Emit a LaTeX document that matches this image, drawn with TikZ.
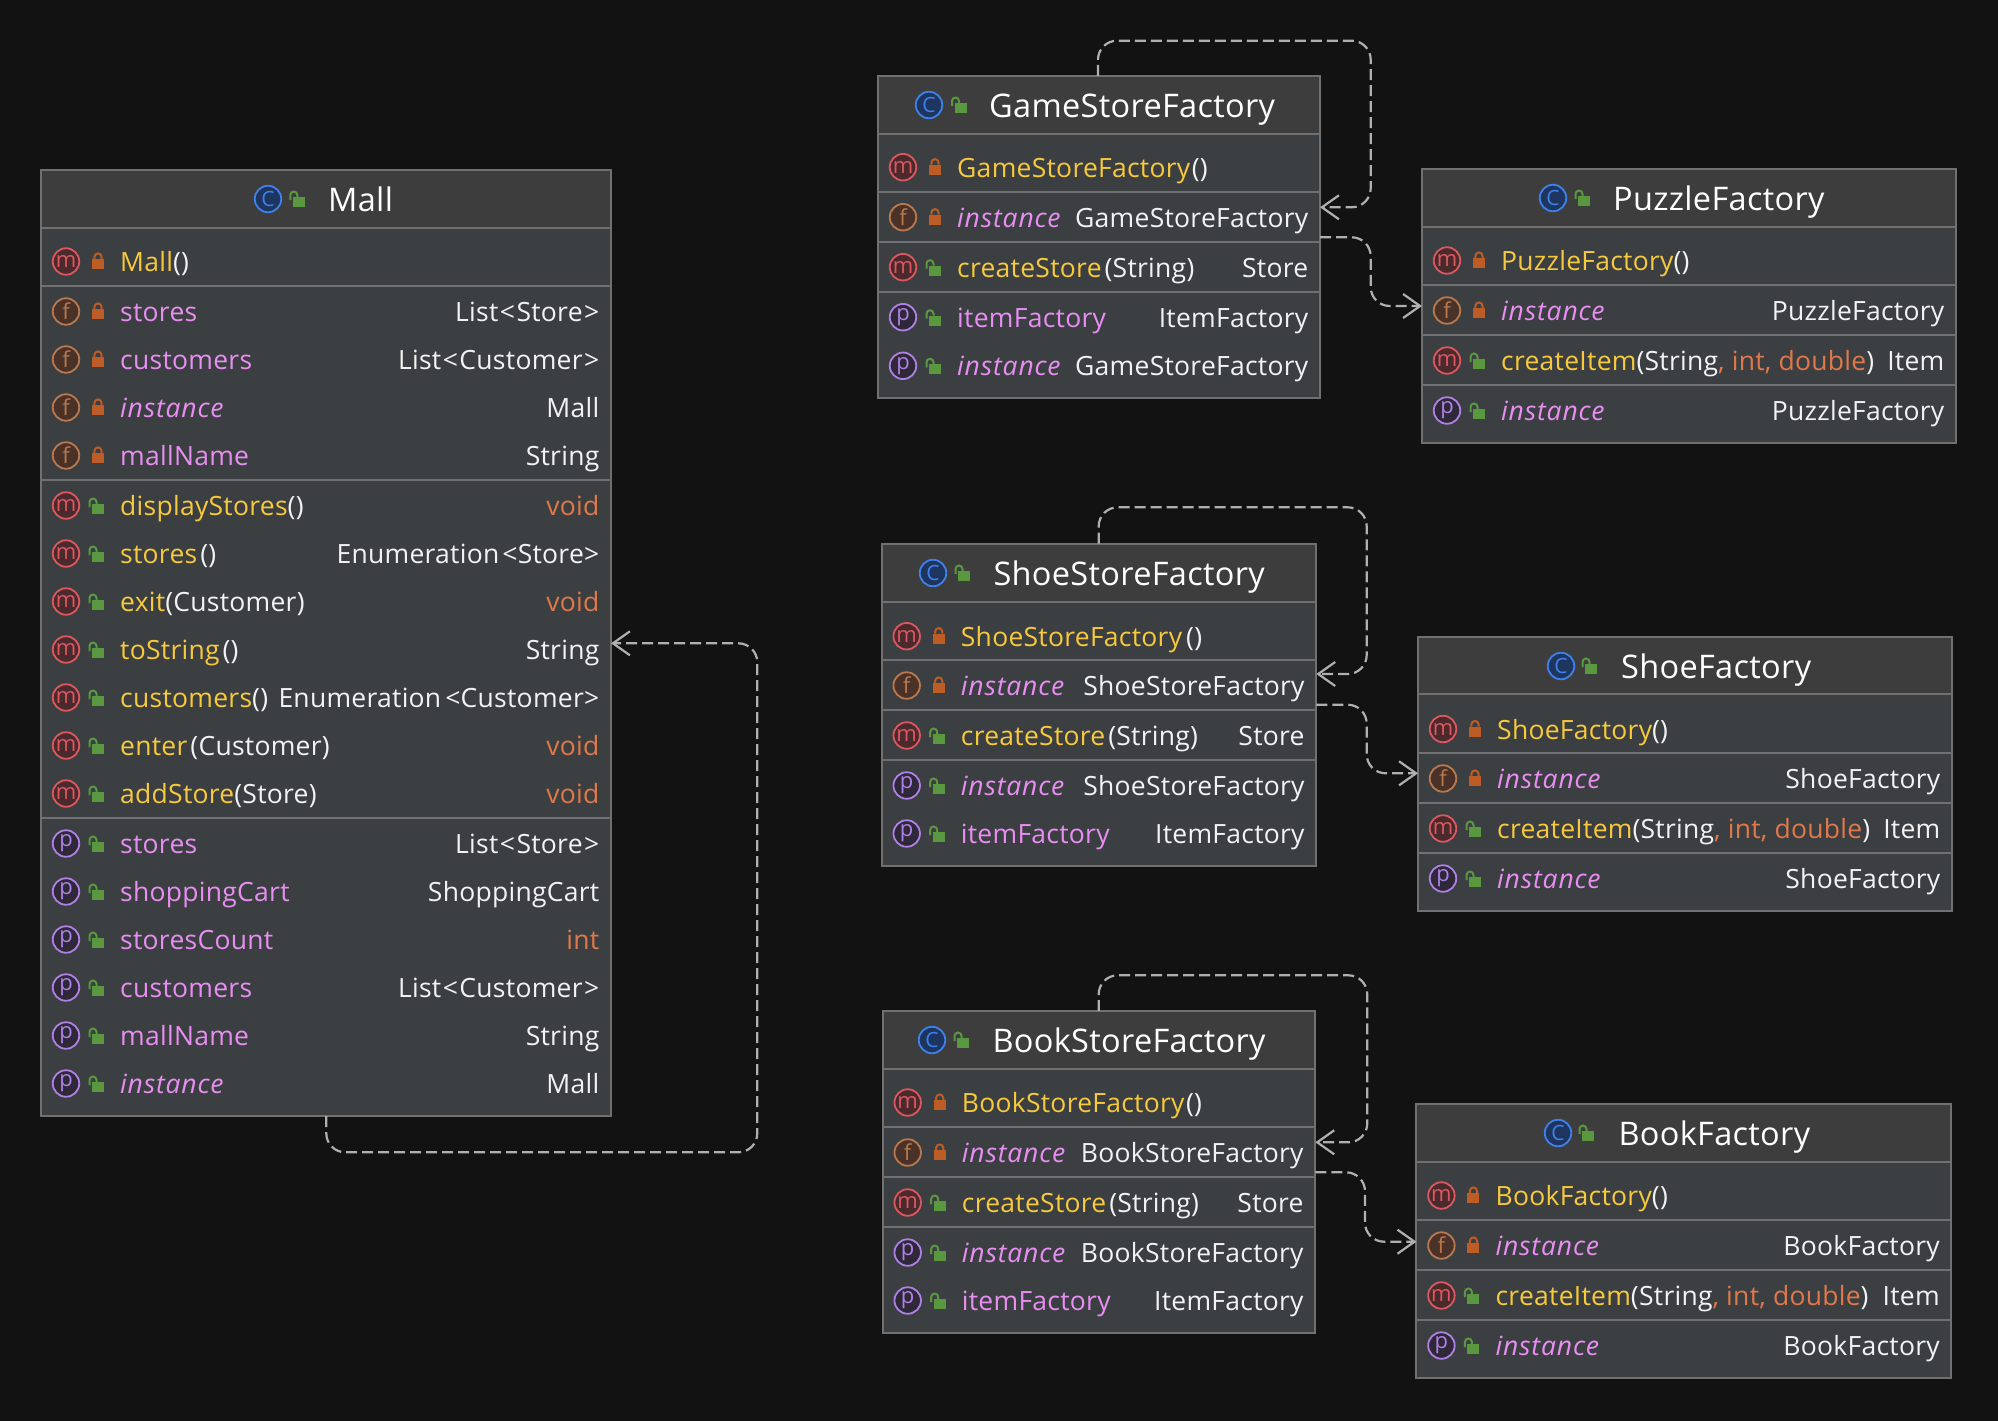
\documentclass[tikz,border=0pt]{standalone}
\usepackage{fontspec}
\setmainfont{Open Sans}[LetterSpace=1.0,ItalicFeatures={LetterSpace=3.2}]
\usetikzlibrary{arrows.meta,calc}
\definecolor{bgc}{HTML}{121212}
\definecolor{headc}{HTML}{3D3D3D}
\definecolor{bodyc}{HTML}{3C3F41}
\definecolor{edgec}{HTML}{707070}
\definecolor{depc}{HTML}{B0B0B0}
\definecolor{txtc}{HTML}{F2F2F2}
\definecolor{mthc}{HTML}{F7C93C}
\definecolor{fldc}{HTML}{E88EF2}
\definecolor{primc}{HTML}{E0784A}
\definecolor{mring}{HTML}{DB5860}
\definecolor{mfill}{HTML}{4A2A2C}
\definecolor{fring}{HTML}{B8794F}
\definecolor{ffill}{HTML}{4B3229}
\definecolor{pring}{HTML}{B081E4}
\definecolor{pfill}{HTML}{2E2838}
\definecolor{cring}{HTML}{3F81EA}
\definecolor{cfill}{HTML}{1E3560}
\definecolor{privc}{HTML}{BD5D25}
\definecolor{pubc}{HTML}{59983F}
\newcommand\rowfont{\fontsize{26.5}{30}\selectfont}
\newcommand\headfont{\fontsize{32.5}{38}\selectfont}
\newcommand\mth[1]{\textcolor{mthc}{#1}}
\newcommand\fld[1]{\textcolor{fldc}{#1}}
\newcommand\ifld[1]{\textcolor{fldc}{\itshape #1}}
\newcommand\prim[1]{\textcolor{primc}{#1}}
\newcommand\tgap{\kern3pt}
\newcommand\ltk{\kern1.5pt<\kern1.5pt}
\newcommand\gtk{\kern1.5pt>}
\tikzset{
  classframe/.style={draw=edgec,fill=bodyc,line width=2pt,inner sep=0pt,outer sep=0pt,anchor=north west},
  septrack/.style={draw=edgec,line width=2pt},
  badge/.style={circle,line width=1.8pt,inner sep=0pt,minimum size=26.5pt,font=\fontsize{22}{22}\selectfont},
  iconm/.style={badge,draw=mring,fill=mfill,text=mring},
  iconf/.style={badge,draw=fring,fill=ffill,text=fring},
  iconp/.style={badge,draw=pring,fill=pfill,text=pring},
  iconc/.style={badge,draw=cring,fill=cfill,text=cring,font=\fontsize{21}{21}\selectfont},
  nametext/.style={inner sep=0pt,anchor=base west,text=txtc,font=\rowfont},
  typetext/.style={inner sep=0pt,anchor=base east,text=txtc,font=\rowfont},
  headtext/.style={inner sep=0pt,anchor=base west,text=white,font=\headfont},
  dep/.style={draw=depc,line width=2.2pt,dash pattern=on 11pt off 5pt,rounded corners=19pt,
    -{Straight Barb[length=17pt,width=24pt,line width=2.2pt]}},
}
\newcommand\lockpriv[2]{%
  \fill[privc] (#1-6,#2-3) rectangle (#1+6,#2+7);
  \draw[privc,line width=2pt] (#1-3.6,#2-3) -- (#1-3.6,#2-5) arc[start angle=180,end angle=0,radius=3.6pt] -- (#1+3.6,#2-3);
}
\newcommand\lockpub[2]{%
  \fill[pubc] (#1-6,#2-2) rectangle (#1+6,#2+8);
  \draw[pubc,line width=2pt] (#1-8.5,#2+1) -- (#1-8.5,#2-4) arc[start angle=180,end angle=0,radius=3.5pt] -- (#1-1.5,#2-2);
}
\newcommand\classhead[1]{\classheadB{#1}}
\newcommand\classheadB[6]{%
  \pgfmathsetmacro\cw{#4-#2}\pgfmathsetmacro\ch{#5-#3}%
  \node[classframe,minimum width=\cw pt,minimum height=\ch pt] (#1) at (#2,#3) {};
  \fill[headc] (#2+1,#3+1) rectangle (#4-1,#6);
  \draw[septrack] (#2,#6) -- (#4,#6);
  \def\curL{#2}\def\curR{#4}\def\curid{#1}%
  \classheadC}
\newcommand\classheadC[5]{%
  \node[iconc] (\curid-c) at (#1,#4) {C};
  \lockpub{#2}{#4}
  \node[headtext] (\curid-t) at (#3-1,#4+12.5) {#5};
}
\newcommand\sepline[1]{\draw[septrack] (\curL,#1) -- (\curR,#1);}
\newcommand\member[6]{%
  \node[icon#3] (\curid-#1i) at (\curL+25,#2-0.5) {#3};
  \csname lock#4\endcsname{\curL+57}{#2}
  \node[nametext] (\curid-#1n) at (\curL+79,#2+9.5) {#5};
  \node[typetext] (\curid-#1t) at (\curR-11.5,#2+9.5) {#6};
}
\begin{document}
\begin{tikzpicture}[x=1pt,y=-1pt]
\fill[bgc] (0,0) rectangle (1998,1421);
\useasboundingbox (0,0) rectangle (1998,1421);

% ---------- Mall
\classhead{mall}{41}{170}{611}{1116}{228}{268}{298.8}{329}{199}{Mall}
\member{a}{262}{m}{priv}{\mth{Mall}()}{}
\sepline{286}
\member{b}{312}{f}{priv}{\fld{stores}}{List\ltk Store\gtk}
\member{c}{360}{f}{priv}{\fld{customers}}{List\ltk Customer\gtk}
\member{d}{408}{f}{priv}{\ifld{instance}}{Mall}
\member{e}{456}{f}{priv}{\fld{mallName}}{String}
\sepline{480}
\member{f}{506}{m}{pub}{\mth{displayStores}()}{\prim{void}}
\member{g}{554}{m}{pub}{\mth{stores}\tgap()}{Enumeration\tgap<Store>}
\member{h}{602}{m}{pub}{\mth{exit}(Customer)}{\prim{void}}
\member{i}{650}{m}{pub}{\mth{toString}\tgap()}{String}
\member{j}{698}{m}{pub}{\mth{customers}()}{Enumeration\kern4pt<Customer>}
\member{k}{746}{m}{pub}{\mth{enter}\tgap(Customer)}{\prim{void}}
\member{l}{794}{m}{pub}{\mth{addStore}(Store)}{\prim{void}}
\sepline{818}
\member{m}{844}{p}{pub}{\fld{stores}}{List\ltk Store\gtk}
\member{n}{892}{p}{pub}{\fld{shoppingCart}}{ShoppingCart}
\member{o}{940}{p}{pub}{\fld{storesCount}}{\prim{int}}
\member{p}{988}{p}{pub}{\fld{customers}}{List\ltk Customer\gtk}
\member{q}{1036}{p}{pub}{\fld{mallName}}{String}
\member{r}{1084}{p}{pub}{\ifld{instance}}{Mall}

% ---------- GameStoreFactory
\classhead{gsf}{878}{76}{1320}{398}{134}{929}{960.5}{990}{105}{GameStoreFactory}
\member{a}{167.7}{m}{priv}{\mth{GameStoreFactory}\kern1.5pt()}{}
\sepline{192.3}
\member{b}{217.7}{f}{priv}{\ifld{instance}}{GameStoreFactory}
\sepline{241.7}
\member{c}{267.7}{m}{pub}{\mth{createStore}\tgap(String)}{Store}
\sepline{291.7}
\member{d}{317.7}{p}{pub}{\fld{itemFactory}}{ItemFactory}
\member{e}{366.3}{p}{pub}{\ifld{instance}}{GameStoreFactory}

% ---------- PuzzleFactory
\classhead{pzf}{1422}{169}{1956}{443}{227}{1553}{1584}{1614}{198}{PuzzleFactory}
\member{a}{261}{m}{priv}{\mth{PuzzleFactory}()}{}
\sepline{285}
\member{b}{311}{f}{priv}{\ifld{instance}}{PuzzleFactory}
\sepline{335}
\member{c}{361}{m}{pub}{\mth{createItem}(String\prim{, int, double})}{Item}
\sepline{385}
\member{d}{411}{p}{pub}{\ifld{instance}}{PuzzleFactory}

% ---------- ShoeStoreFactory
\classhead{ssf}{881.7}{543.7}{1316.3}{866}{601.7}{933}{964}{994.3}{573}{ShoeStoreFactory}
\member{a}{636.7}{m}{priv}{\mth{ShoeStoreFactory}\kern4pt()}{}
\sepline{660}
\member{b}{686}{f}{priv}{\ifld{instance}}{ShoeStoreFactory}
\sepline{710}
\member{c}{736}{m}{pub}{\mth{createStore}\tgap(String)}{Store}
\sepline{760}
\member{d}{786}{p}{pub}{\ifld{instance}}{ShoeStoreFactory}
\member{e}{834}{p}{pub}{\fld{itemFactory}}{ItemFactory}

% ---------- ShoeFactory
\classhead{shf}{1418}{636.7}{1952}{911}{694.3}{1561}{1591}{1622}{666}{ShoeFactory}
\member{a}{729.5}{m}{priv}{\mth{ShoeFactory}()}{}
\sepline{752.7}
\member{b}{779}{f}{priv}{\ifld{instance}}{ShoeFactory}
\sepline{802.7}
\member{c}{829}{m}{pub}{\mth{createItem}(String\prim{, int, double})}{Item}
\sepline{852.7}
\member{d}{879}{p}{pub}{\ifld{instance}}{ShoeFactory}

% ---------- BookStoreFactory
\classhead{bsf}{882.7}{1011}{1315.3}{1333}{1068.7}{932}{963}{993.3}{1040}{BookStoreFactory}
\member{a}{1103}{m}{priv}{\mth{BookStoreFactory}\kern1.5pt()}{}
\sepline{1126.7}
\member{b}{1153}{f}{priv}{\ifld{instance}}{BookStoreFactory}
\sepline{1176.7}
\member{c}{1203}{m}{pub}{\mth{createStore}\tgap(String)}{Store}
\sepline{1227}
\member{d}{1253}{p}{pub}{\ifld{instance}}{BookStoreFactory}
\member{e}{1301}{p}{pub}{\fld{itemFactory}}{ItemFactory}

% ---------- BookFactory
\classhead{bkf}{1416.4}{1103.7}{1951.4}{1378}{1161.7}{1558}{1588}{1619.3}{1133}{BookFactory}
\member{a}{1196}{m}{priv}{\mth{BookFactory}()}{}
\sepline{1219.7}
\member{b}{1246}{f}{priv}{\ifld{instance}}{BookFactory}
\sepline{1269.7}
\member{c}{1296}{m}{pub}{\mth{createItem}(String\prim{, int, double})}{Item}
\sepline{1320}
\member{d}{1346}{p}{pub}{\ifld{instance}}{BookFactory}

% ---------- connectors
\coordinate (mallOut) at ($(mall.south west)+(285.3,0)$);
\draw[dep] (mallOut) -- (326.3,1152.3) -- (757.3,1152.3) -- (757.3,643.3) -- (mall.east |- 0,643.3);

\coordinate (gsfTop) at ($(gsf.north west)+(220,0)$);
\draw[dep] (gsfTop) -- (1098,40.7) -- (1370.7,40.7) -- (1370.7,207.3) -- (gsf.east |- 0,207.3);
\coordinate (gsfOut) at (gsf.east |- 0,237.3);
\draw[dep] (gsfOut) -- (1370.7,237.3) -- (1370.7,306) -- (pzf.west |- 0,306);

\coordinate (ssfTop) at ($(ssf.north west)+(217,0)$);
\draw[dep] (ssfTop) -- (1098.7,507.3) -- (1366.7,507.3) -- (1366.7,674) -- (ssf.east |- 0,674);
\coordinate (ssfOut) at (ssf.east |- 0,704.7);
\draw[dep] (ssfOut) -- (1366.7,704.7) -- (1366.7,773.3) -- (shf.west |- 0,773.3);

\coordinate (bsfTop) at ($(bsf.north west)+(216,0)$);
\draw[dep] (bsfTop) -- (1098.7,975.3) -- (1367.3,975.3) -- (1367.3,1142.3) -- (bsf.east |- 0,1142.3);
\coordinate (bsfOut) at (bsf.east |- 0,1172.3);
\draw[dep] (bsfOut) -- (1365,1172.3) -- (1365,1241.7) -- (bkf.west |- 0,1241.7);
\end{tikzpicture}
\end{document}
